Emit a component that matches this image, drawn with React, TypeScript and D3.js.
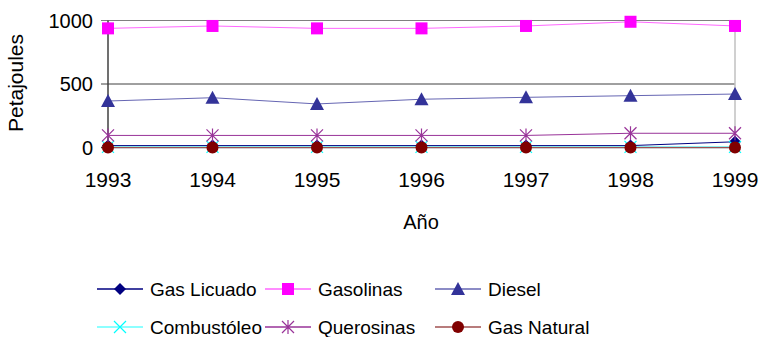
import React from "react";
import * as d3 from "d3";

const years = ["1993", "1994", "1995", "1996", "1997", "1998", "1999"];
const gasLicuado = [15, 15, 15, 15, 15, 15, 45];
const gasolinas = [938, 957, 938, 938, 957, 990, 957];
const diesel = [366, 392, 343, 380, 395, 408, 421];
const combustoleo = [5, 5, 5, 5, 5, 5, 5];
const querosinas = [95, 95, 95, 95, 95, 112, 112];
const gasNatural = [0, 0, 0, 0, 0, 0, 0];
const yTicks = [0, 500, 1000];

type Series = { name: string; values: number[]; line: string; marker: string; shape: string };
const series: Series[] = [
  { name: "Gas Licuado", values: gasLicuado, line: "#000080", marker: "#000080", shape: "diamond" },
  { name: "Gasolinas", values: gasolinas, line: "#ff66ff", marker: "#ff00ff", shape: "square" },
  { name: "Diesel", values: diesel, line: "#6666b3", marker: "#333399", shape: "triangle" },
  { name: "Combustóleo", values: combustoleo, line: "#66ffff", marker: "#00ffff", shape: "x" },
  { name: "Querosinas", values: querosinas, line: "#993399", marker: "#993399", shape: "star" },
  { name: "Gas Natural", values: gasNatural, line: "#a05050", marker: "#800000", shape: "circle" },
];

const FONT = "'Liberation Sans', Arial, sans-serif";

function Marker({ shape, x, y, color }: { shape: string; x: number; y: number; color: string }) {
  const s = 6;
  switch (shape) {
    case "diamond":
      return <path d={`M${x},${y - s}L${x + s},${y}L${x},${y + s}L${x - s},${y}Z`} fill={color} />;
    case "square":
      return <rect x={x - s} y={y - s} width={2 * s} height={2 * s} fill={color} />;
    case "triangle":
      return <path d={`M${x},${y - s - 1}L${x + s + 1},${y + s}L${x - s - 1},${y + s}Z`} fill={color} />;
    case "x":
      return (
        <path d={`M${x - s},${y - s}L${x + s},${y + s}M${x - s},${y + s}L${x + s},${y - s}`} stroke={color} strokeWidth={1.2} />
      );
    case "star":
      return (
        <path
          d={`M${x - s},${y - s}L${x + s},${y + s}M${x - s},${y + s}L${x + s},${y - s}M${x},${y - s - 1}L${x},${y + s + 1}`}
          stroke={color}
          strokeWidth={1.2}
        />
      );
    case "circle":
      return <circle cx={x} cy={y} r={s} fill={color} />;
  }
  return null;
}

export default function App() {
  const W = 762, H = 337;
  const x = d3.scalePoint<string>().domain(years).range([108, 735]);
  const y = d3.scaleLinear().domain([0, 1000]).range([147.5, 20.5]);
  const lineGen = (vals: number[]) =>
    d3.line<number>().x((_, i) => x(years[i])!).y((v) => y(v))(vals) || "";

  const legendCols = [97, 265, 435];
  const legendRows = [289, 327];

  return (
    <svg width={W} height={H} style={{ position: "absolute", left: 0, top: 0 }} fontFamily={FONT}>
      <rect width={W} height={H} fill="#fff" />
      {yTicks.map((t) => (
        <g key={t}>
          <line x1={101} x2={735} y1={y(t)} y2={y(t)} stroke={t === 1000 ? "#808080" : "#404040"} strokeWidth={t === 0 ? 1.5 : 1} />
          <text x={93} y={y(t)} dy="0.35em" textAnchor="end" fontSize={20} fill="#000">
            {t}
          </text>
        </g>
      ))}
      <line x1={735} x2={735} y1={y(1000)} y2={y(0)} stroke="#c0c0c0" strokeWidth={1.5} />
      <line x1={108} x2={108} y1={y(1000)} y2={y(0) + 1} stroke="#404040" strokeWidth={1.5} />
      {years.map((yr) => (
        <text key={yr} x={x(yr)} y={187} textAnchor="middle" fontSize={21} fill="#000">
          {yr}
        </text>
      ))}
      <text x={421} y={229} textAnchor="middle" fontSize={20}>
        Año
      </text>
      <text transform="translate(23,83) rotate(-90)" textAnchor="middle" fontSize={21}>
        Petajoules
      </text>
      {series.map((s) => (
        <path key={s.name + "l"} d={lineGen(s.values)} fill="none" stroke={s.line} strokeWidth={1} />
      ))}
      {series.map((s) => (
        <g key={s.name + "m"}>
          {s.values.map((v, i) => (
            <Marker key={i} shape={s.shape} x={x(years[i])!} y={y(v)} color={s.marker} />
          ))}
        </g>
      ))}
      {series.map((s, i) => {
        const lx = legendCols[i % 3];
        const ly = legendRows[Math.floor(i / 3)];
        return (
          <g key={s.name + "lg"}>
            <line x1={lx} x2={lx + 46} y1={ly} y2={ly} stroke={s.line} strokeWidth={1.5} />
            <Marker shape={s.shape} x={lx + 23} y={ly} color={s.marker} />
            <text x={lx + 53} y={ly} dy="0.35em" fontSize={19}>
              {s.name}
            </text>
          </g>
        );
      })}
    </svg>
  );
}
